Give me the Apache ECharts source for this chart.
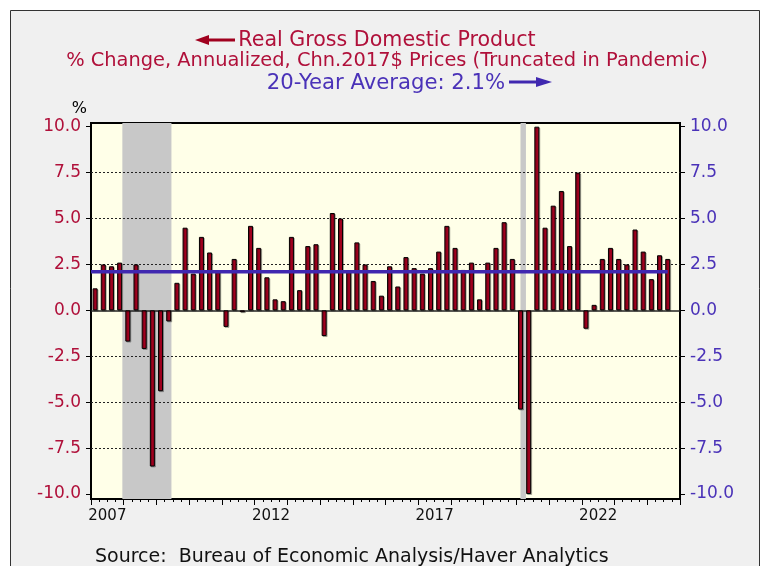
<!DOCTYPE html>
<html>
<head>
<meta charset="utf-8">
<script src="https://cdn.jsdelivr.net/npm/echarts@6/dist/echarts.min.js"></script>
<style>
html,body{margin:0;padding:0;background:#fff;}
#main{width:765px;height:566px;}
</style>
</head>
<body>
<div id="main"></div>
<script>
// Real GDP, % change annualized, quarterly from 2007 Q1 to 2024 Q3
var startYear = 2007;
var gdpGrowth = [
  1.2, 2.5, 2.4, 2.6,    // 2007
  -1.7, 2.5, -2.1, -8.5, // 2008
  -4.4, -0.6, 1.5, 4.5,  // 2009
  2.0, 4.0, 3.15, 2.1,   // 2010
  -0.9, 2.8, -0.1, 4.6,  // 2011
  3.4, 1.8, 0.6, 0.5,    // 2012
  4.0, 1.1, 3.5, 3.6,    // 2013
  -1.4, 5.3, 5.0, 2.1,   // 2014
  3.7, 2.5, 1.6, 0.8,    // 2015
  2.4, 1.3, 2.9, 2.3,    // 2016
  2.0, 2.3, 3.2, 4.6,    // 2017
  3.4, 2.2, 2.6, 0.6,    // 2018
  2.6, 3.4, 4.8, 2.8,    // 2019
  -5.4, -10.0, 10.0, 4.5,// 2020 (truncated)
  5.7, 6.5, 3.5, 7.5,    // 2021
  -1.0, 0.3, 2.8, 3.4,   // 2022
  2.8, 2.5, 4.4, 3.2,    // 2023
  1.7, 3.0, 2.8          // 2024
];
var avgGrowth = 2.1;
var yearLabels = ['2007','2008','2009','2010','2011','2012','2013','2014','2015',
  '2016','2017','2018','2019','2020','2021','2022','2023','2024'];
var yTicks = [-10, -7.5, -5, -2.5, 0, 2.5, 5, 7.5, 10];
var gridLevels = [-7.5, -5, -2.5, 2.5, 5, 7.5];
var recessions = [['2007-12', '2009-06'], ['2020-02', '2020-04']];

var font = 'DejaVu Sans';
var red = '#B0103A', purple = '#4A32B8';

function quarterX(i) { return startYear + (i + 0.5) / 4; }
function monthX(s) { var p = s.split('-'); return +p[0] + (+p[1] - 0.5) / 12; }

var barData = gdpGrowth.map(function (v, i) { return [quarterX(i), v]; });
var avgData = [[startYear, avgGrowth], [quarterX(gdpGrowth.length - 1), avgGrowth]];
var shade = recessions.map(function (r) { return [{xAxis: monthX(r[0])}, {xAxis: monthX(r[1])}]; });
var lines = gridLevels.map(function (v) { return {yAxis: v}; });
lines.push({yAxis: 0, lineStyle: {type: 'solid', width: 1.5}});

var chart = echarts.init(document.getElementById('main'));

function yAxisOf(pos, color) {
  return {
    type: 'value', position: pos, min: -10.27, max: 10.2,
    axisLine: {show: true, onZero: false, lineStyle: {color: '#000', width: 2}},
    axisTick: {show: true, length: 5, customValues: yTicks, lineStyle: {color: '#000', width: 1}},
    axisLabel: {customValues: yTicks, color: color, fontSize: 17, margin: 10,
      formatter: function (v) { return v.toFixed(1); }},
    splitLine: {show: false}
  };
}

var option = {
  animation: false,
  textStyle: {fontFamily: font},
  graphic: [
    {type: 'rect', z: -10, shape: {x: 10.5, y: 10.5, width: 749, height: 600},
      style: {fill: '#F0F0F0', stroke: '#333', lineWidth: 1}},
    {type: 'text', x: 387, y: 41, style: {text: 'Real Gross Domestic Product', fill: red,
      fontSize: 20.6, fontFamily: font, align: 'center', verticalAlign: 'middle'}},
    {type: 'text', x: 387, y: 60.5, style: {text: '% Change, Annualized, Chn.2017$ Prices (Truncated in Pandemic)',
      fill: red, fontSize: 19.4, fontFamily: font, align: 'center', verticalAlign: 'middle'}},
    {type: 'text', x: 386, y: 83, style: {text: '20-Year Average: 2.1%', fill: purple,
      fontSize: 21.2, fontFamily: font, align: 'center', verticalAlign: 'middle'}},
    {type: 'text', x: 87, y: 109, style: {text: '%', fill: '#000',
      fontSize: 16, fontFamily: font, align: 'right', verticalAlign: 'middle'}},
    {type: 'text', x: 95, y: 557, style: {text: 'Source:  Bureau of Economic Analysis/Haver Analytics',
      fill: '#111', fontSize: 19, fontFamily: font, align: 'left', verticalAlign: 'middle'}},
    // left arrow (red)
    {type: 'line', shape: {x1: 206, y1: 40, x2: 235, y2: 40}, style: {stroke: '#A0001E', lineWidth: 3}},
    {type: 'polygon', shape: {points: [[195, 40], [209, 35], [209, 45]]}, style: {fill: '#A0001E'}},
    // right arrow (purple)
    {type: 'line', shape: {x1: 509, y1: 82, x2: 540, y2: 82}, style: {stroke: '#4028B0', lineWidth: 3}},
    {type: 'polygon', shape: {points: [[552, 82], [536, 77], [536, 87]]}, style: {fill: '#4028B0'}}
  ],
  grid: {left: 91, right: 85, top: 123, bottom: 67, show: true,
    backgroundColor: '#FFFFE8', borderColor: '#000', borderWidth: 2},
  xAxis: [
    {type: 'value', min: 2007, max: 2025, interval: 1, position: 'bottom',
      axisLine: {show: true, onZero: false, lineStyle: {color: '#000', width: 2}},
      axisTick: {show: true, length: 6, lineStyle: {color: '#000', width: 1}},
      minorTick: {show: true, splitNumber: 4, length: 3, lineStyle: {color: '#000', width: 1}},
      axisLabel: {show: false}, splitLine: {show: false}},
    {type: 'category', data: yearLabels, position: 'bottom', boundaryGap: true,
      axisLine: {show: false, onZero: false}, axisTick: {show: false},
      axisLabel: {interval: 4, color: '#111', fontSize: 15, margin: 10}}
  ],
  yAxis: [yAxisOf('left', red), yAxisOf('right', purple)],
  series: [
    {type: 'line', data: [], z: 1, silent: true,
      markArea: {silent: true, z: 1, itemStyle: {color: '#C8C8C8'}, data: shade}},
    {type: 'line', data: [], z: 2, silent: true,
      markLine: {silent: true, z: 2, symbol: ['none', 'none'], label: {show: false},
        lineStyle: {color: '#222', type: [2, 2], width: 1}, data: lines}},
    {type: 'bar', data: barData, barWidth: 5, z: 3,
      itemStyle: {color: '#A0001E', borderColor: '#000', borderWidth: 1,
        shadowColor: 'rgba(0,0,0,0.25)', shadowOffsetX: 1, shadowOffsetY: 1}},
    {type: 'line', yAxisIndex: 1, data: avgData, z: 4, symbol: 'none',
      lineStyle: {color: '#4028B0', width: 3.5}}
  ]
};
chart.setOption(option);
</script>
</body>
</html>
